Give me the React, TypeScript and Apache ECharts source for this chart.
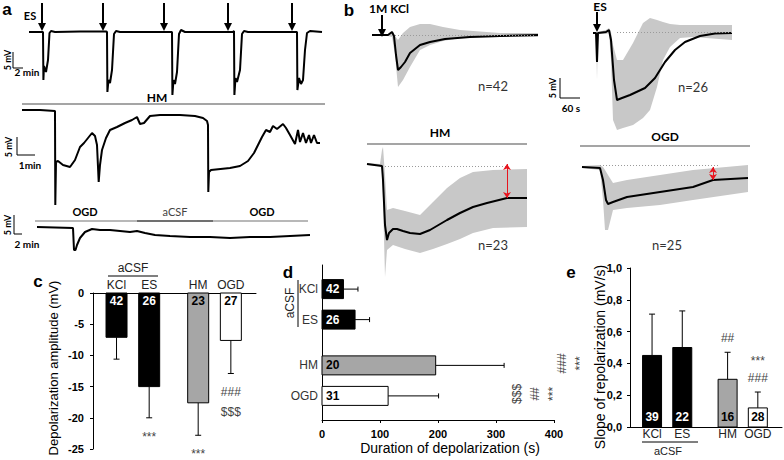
import React, { useEffect, useRef } from 'react';
import * as echarts from 'echarts';

const FONT = '"Liberation Sans", Arial, sans-serif';
const FONT2 = 'Lato, "Open Sans", sans-serif';

// ---------- panel a : raw recordings (t in min, v in mV) ----------
const traceES: number[][] = [
  [0, 0], [2.6, 0], [2.8, 0], [2.88, -19.2], [3.0, -13.6], [3.4, -16], [3.8, -11.2], [4.1, -0.4], [4.4, 0.4], [5.2, 0],
  [10.2, 0.2], [15.4, 0.2], [15.6, 0], [15.68, -24], [15.9, -19.2], [16.2, -20.4], [16.6, -15.2], [17, -0.8], [17.4, 0.4], [18.2, 0],
  [28.4, 0], [28.6, 0], [28.68, -25.2], [28.9, -19.2], [29.2, -20.8], [29.6, -16], [30, -0.8], [30.4, 0.8], [31.2, 0],
  [40.8, 0], [41, 0.4], [41.08, -25.2], [41.3, -18.4], [41.6, -20], [42.2, -15.2], [42.6, -0.8], [43, 0.4], [43.8, 0],
  [53.4, 0], [53.6, 0], [53.68, -23.2], [54, -18.4], [54.4, -20.8], [54.8, -19.2], [55.2, -7.2], [55.6, -0.4], [56.2, 0.4], [58.6, 0]
];
const esStimTimes = [2.6, 14.8, 27, 39.8, 52.6];

const traceHM: number[][] = [
  [0, 0], [0.9, 0], [1.65, -0.25], [1.665, -23.75], [1.7, -13], [1.8, -12.75], [2.05, -13.75], [2.4, -14.25], [2.65, -12.5],
  [2.9, -9.25], [3.1, -8.25], [3.3, -7], [3.5, -5.75], [3.65, -6.5], [3.75, -8.75], [3.835, -18], [3.9, -13.75], [4.0, -10],
  [4.2, -7], [4.4, -5], [4.75, -4.25], [5.15, -3.25], [5.5, -2.5], [5.75, -1.75], [5.9, -3.5], [6.1, -3.25], [6.4, -1.5],
  [6.9, -1.25], [7.9, -1.25], [8.65, -1.5], [9.05, -2], [9.25, -2.75], [9.3, -3.75], [9.315, -20.5], [9.35, -15.5],
  [9.45, -15], [10.4, -14.5], [10.9, -14], [11.3, -12.75], [11.6, -10.75], [11.8, -8.75], [12.0, -6.75], [12.2, -5],
  [12.4, -5.5], [12.55, -4], [12.75, -4.75], [13.05, -3.5], [13.2, -4.5], [13.4, -6.25], [13.65, -8.5], [13.8, -5],
  [13.9, -8], [14.05, -5.75], [14.2, -8.25], [14.35, -6.25], [14.45, -8.25], [14.6, -6.25], [14.75, -8.25], [14.9, -8.25]
];

const traceOGD: number[][] = [
  [0, 0], [3.6, -0.125], [7.2, -0.25], [7.4, -5.75], [7.7, -5.75], [8.0, -4.5], [8.6, -2.75], [9.6, -1.25], [11, -0.5],
  [12.6, -0.75], [14.6, -0.75], [16.6, -1], [18.6, -1.25], [20, -1], [21.6, -1.5], [23.6, -2], [26.6, -2.25], [30.6, -2.5],
  [34.6, -2.5], [38.6, -2.75], [42.6, -2.5], [46.6, -2.5], [50.6, -2.25], [54.6, -2]
];

// ---------- panel b : averaged traces (t in s, v in mV); bands are [t, low, high] ----------
const kclMean: number[][] = [
  [0, 0], [48, 0], [60, 0.75], [66, -0.25], [72, -5], [78, -8.75], [87, -8], [99, -6.75], [114, -4.5], [144, -2.5],
  [174, -1.75], [219, -1], [294, -0.5], [384, -0.25], [498, 0]
];
const kclBand: number[][] = [
  [0, -0.25, 0.25], [48, -0.25, 0.25], [60, -0.5, 1], [69, -5, -0.25], [78, -13, -1.25], [93, -11.25, 0.5], [114, -8, 2],
  [144, -3.75, 2.75], [174, -2.5, 2.75], [213, -1.5, 2], [264, -0.75, 1.25], [384, -0.5, 0.5], [498, -0.5, 0.5]
];
const esMean: number[][] = [
  [0, 0], [9, 0], [12, -7.25], [15, 0], [39, 0.25], [48, 0.75], [54, -1.75], [63, -11.75], [72, -16.75], [87, -16.25],
  [111, -15.5], [156, -13.75], [186, -11.25], [216, -7.25], [246, -4.25], [276, -2.25], [321, -0.75], [366, -0.125], [417, 0]
];
const esBand: number[][] = [
  [0, -0.25, 0.25], [9, -0.25, 0.25], [12, -11.75, 0.25], [15, -0.25, 0.25], [39, -0.25, 0.75], [48, 0, 1.25],
  [54, -6.75, 0.25], [60, -21.75, -3], [72, -24.25, -6.75], [90, -23.75, -6.75], [120, -23, -2.5], [150, -21.25, 2.5],
  [171, -19.25, 3.75], [192, -13.5, 3.25], [210, -6.75, 2.75], [231, -3.5, 2.25], [261, -1.25, 2], [300, -1, 2], [417, -1.75, 2]
];
const hmMean: number[][] = [
  [0, 0], [45, -0.5], [48, -4], [54, -15.25], [60, -19], [66, -17.25], [78, -16.25], [90, -16.25], [108, -16.75],
  [129, -17.25], [159, -17.5], [189, -16.5], [240, -14], [279, -12.25], [318, -10.75], [360, -9.75], [420, -8.5], [480, -8.5]
];
const hmBand: number[][] = [
  [0, -0.25, 0.25], [39, -0.5, 0], [45, -1, 3.5], [48, -9, 4.25], [54, -28.25, -2.75], [60, -21.5, -11.5], [78, -20.25, -11],
  [114, -21.25, -11.75], [159, -22.25, -12.75], [198, -21.25, -9.5], [240, -20, -6], [279, -18.75, -3.5], [318, -17.25, -2],
  [378, -16, -1.5], [480, -15.75, -1.25]
];
const ogdMean: number[][] = [
  [0, 0], [54, -0.25], [63, -3.25], [72, -8.25], [78, -9.25], [93, -8.75], [135, -7.5], [234, -6.25], [333, -5],
  [393, -3.25], [498, -2.75]
];
const ogdBand: number[][] = [
  [0, -0.25, 0.25], [54, -0.75, 0.5], [63, -8.25, 0], [69, -15.75, -0.75], [78, -15.75, -2], [93, -10.75, -4],
  [135, -10.25, -3.25], [234, -9.5, -2], [333, -8.25, -0.75], [498, -6.25, 0.5]
];
const kclStimTime = 30;
const esStimTimeB = 12;
const hmArrowTime = 420;
const ogdArrowTime = 393;

// ---------- panels c, d, e ----------
const groups = ['KCl', 'ES', 'HM', 'OGD'];
const slots = [0, 1, 2.5, 3.5];
const ampMean = [-7.1, -15.0, -17.6, -7.6];
const ampSD = [3.5, 5.0, 5.2, 5.3];
const ampN = [42, 26, 23, 27];
const ampSig = ['', '***', '***', '###\n$$$'];
const durMean = [37, 57, 196, 114];
const durSD = [25, 25, 118, 87];
const durN = [42, 26, 20, 31];
const durSig = [[], [], ['###', '***'], ['$$$', '##', '***']];
const slopeMean = [0.45, 0.5, 0.3, 0.12];
const slopeSD = [0.26, 0.23, 0.17, 0.1];
const slopeN = [39, 22, 16, 28];
const slopeSig = ['', '', '##', '***\n###'];
const barFill = ['#000000', '#000000', '#a6a6a6', '#ffffff'];
const nColor = ['#ffffff', '#ffffff', '#000000', '#000000'];

function traceLine(g: number, data: number[][], markData?: any[]) {
  const s: any = {
    type: 'line', xAxisIndex: g, yAxisIndex: g, data, showSymbol: false, symbol: 'none', silent: true, z: 3,
    lineStyle: { color: '#000', width: 2 }, clip: false
  };
  if (markData) {
    s.markLine = { silent: true, animation: false, label: { show: false }, symbol: ['none', 'none'], data: markData };
  }
  return s;
}

function bandSeries(g: number, band: number[][]) {
  return {
    type: 'custom', xAxisIndex: g, yAxisIndex: g, silent: true, z: 1, clip: false,
    data: [[band[0][0], band[0][1]]],
    renderItem: (_p: any, api: any) => {
      const pts: number[][] = [];
      band.forEach((b) => pts.push(api.coord([b[0], b[1]])));
      for (let i = band.length - 1; i >= 0; i--) pts.push(api.coord([band[i][0], band[i][2]]));
      return { type: 'polygon', shape: { points: pts }, style: { fill: '#c8c8c8' } };
    }
  };
}

function stimArrow(t: number, v1: number, v2: number) {
  return [
    { coord: [t, v1], symbol: 'none', lineStyle: { color: '#000', width: 2, type: 'solid' } },
    { coord: [t, v2], symbol: 'triangle', symbolSize: [8, 8], symbolRotate: 180 }
  ];
}
function dotted(t1: number, t2: number, v: number) {
  return [
    { coord: [t1, v], symbol: 'none', lineStyle: { color: '#9a9a9a', width: 1, type: [1, 2] } },
    { coord: [t2, v], symbol: 'none' }
  ];
}
function redArrow(t: number, v2: number) {
  return [
    { coord: [t, 0], symbol: 'arrow', symbolSize: 6, lineStyle: { color: '#e8141e', width: 1, type: 'solid' } },
    { coord: [t, v2], symbol: 'arrow', symbolSize: 6 }
  ];
}

const txt = (text: string, x: number, y: number, font: string, extra: any = {}) => ({
  type: 'text', x, y, rotation: extra.rotation || 0, silent: true,
  style: { text, font, fill: extra.fill || '#000', align: extra.align || 'center', verticalAlign: extra.va || 'middle' }
});
const seg = (x1: number, y1: number, x2: number, y2: number, stroke = '#000', w = 1) => ({
  type: 'line', silent: true, shape: { x1, y1, x2, y2 }, style: { stroke, lineWidth: w }
});

function buildOption(): any {
  const R = Math.PI / 2;
  const grids = [
    { left: 29, top: 0, width: 293, height: 100 },
    { left: 22, top: 105, width: 300, height: 105 },
    { left: 37, top: 220, width: 273, height: 35 },
    { left: 372, top: 0, width: 166, height: 95 },
    { left: 593, top: 0, width: 139, height: 135 },
    { left: 367, top: 145, width: 160, height: 135 },
    { left: 582, top: 150, width: 166, height: 85 },
    { left: 93, top: 293, width: 163, height: 156 },
    { left: 322, top: 265, width: 232, height: 155 },
    { left: 630, top: 268, width: 152, height: 159 }
  ];
  const ranges = [
    [0, 58.6, -27.2, 12.8], [0, 15, -25, 1.25], [0, 54.6, -7, 1.75],
    [0, 498, -15, 8.75], [0, 417, -25.5, 8.25], [0, 480, -29, 4.75], [0, 498, -17, 4.25]
  ];
  const xAxis: any[] = ranges.map((r, g) => ({ type: 'value', gridIndex: g, min: r[0], max: r[1], show: false }));
  const yAxis: any[] = ranges.map((r, g) => ({ type: 'value', gridIndex: g, min: r[2], max: r[3], show: false }));
  const blackLine = { show: true, onZero: false, lineStyle: { color: '#000', width: 1 } };
  const boldLab = { color: '#000', fontFamily: FONT, fontWeight: 'bold', fontSize: 11 };
  // c
  xAxis.push({ type: 'value', gridIndex: 7, min: -0.72, max: 4.27, position: 'top', axisLine: blackLine, axisTick: { show: false }, axisLabel: { show: false }, splitLine: { show: false } });
  yAxis.push({ type: 'value', gridIndex: 7, min: -25, max: 0, interval: 5, axisLine: blackLine, axisTick: { show: true, length: 3, lineStyle: { color: '#000' } }, axisLabel: { ...boldLab, margin: 9 }, splitLine: { show: false } });
  // d
  xAxis.push({ type: 'value', gridIndex: 8, min: 0, max: 400, interval: 100, axisLine: blackLine, axisTick: { show: true, length: 3, lineStyle: { color: '#000' } }, axisLabel: { ...boldLab, margin: 8 }, splitLine: { show: false } });
  yAxis.push({ type: 'value', gridIndex: 8, min: -0.79, max: 4.29, inverse: true, axisLine: blackLine, axisTick: { show: false }, axisLabel: { show: false }, splitLine: { show: false } });
  // e
  xAxis.push({ type: 'value', gridIndex: 9, min: -0.73, max: 4.3, axisLine: blackLine, axisTick: { show: false }, axisLabel: { show: false }, splitLine: { show: false } });
  yAxis.push({ type: 'value', gridIndex: 9, min: 0, max: 1, interval: 0.2, axisLine: blackLine, axisTick: { show: true, length: 3, lineStyle: { color: '#000' } }, axisLabel: { ...boldLab, margin: 8, formatter: (v: number) => v.toFixed(1).replace('.', ',') }, splitLine: { show: false } });

  const series: any[] = [
    traceLine(0, traceES, esStimTimes.map((t) => stimArrow(t, 11.6, 2))),
    traceLine(1, traceHM),
    traceLine(2, traceOGD),
    bandSeries(3, kclBand),
    traceLine(3, kclMean, [stimArrow(kclStimTime, 5, 0.5), dotted(69, 489, 0)]),
    bandSeries(4, esBand),
    traceLine(4, esMean, [stimArrow(esStimTimeB, 5.25, 1.25), dotted(72, 417, 0.25)]),
    bandSeries(5, hmBand),
    traceLine(5, hmMean, [dotted(54, 423, -0.5), redArrow(hmArrowTime, -8.5)]),
    bandSeries(6, ogdBand),
    traceLine(6, ogdMean, [dotted(54, 414, 0.5), redArrow(ogdArrowTime, -3.25)])
  ];

  // c : amplitude (vertical bars downward)
  series.push({
    type: 'custom', xAxisIndex: 7, yAxisIndex: 7, clip: false, silent: true, z: 5,
    encode: { x: 0, y: 1 },
    data: groups.map((_g, i) => [slots[i], ampMean[i], ampSD[i]]),
    renderItem: (params: any, api: any) => {
      const i = params.dataIndex;
      const s = api.value(0), m = api.value(1), sd = api.value(2);
      const p0 = api.coord([s, 0]), p1 = api.coord([s, m]), pe = api.coord([s, m - sd]);
      const w = 21;
      return {
        type: 'group', children: [
          seg(p1[0], p1[1], pe[0], pe[1]),
          seg(pe[0] - 3, pe[1], pe[0] + 3, pe[1]),
          { type: 'rect', shape: { x: p0[0] - w / 2, y: p0[1], width: w, height: p1[1] - p0[1] }, style: { fill: barFill[i], stroke: '#000', lineWidth: 1 } },
          txt(String(ampN[i]), p0[0], p0[1] + 8, 'bold 12px ' + FONT, { fill: nColor[i] }),
          txt(groups[i], p0[0], p0[1] - 8, '12px ' + FONT, { fill: '#222' }),
          { type: 'text', x: pe[0], y: pe[1] + 9, style: { text: ampSig[i], font: '12px ' + FONT, fill: '#444', align: 'center', verticalAlign: 'top', lineHeight: 20 } }
        ]
      };
    }
  });

  // d : duration (horizontal bars)
  series.push({
    type: 'custom', xAxisIndex: 8, yAxisIndex: 8, clip: false, silent: true, z: 5,
    encode: { x: 1, y: 0 },
    data: groups.map((_g, i) => [slots[i], durMean[i], durSD[i]]),
    renderItem: (params: any, api: any) => {
      const i = params.dataIndex;
      const s = api.value(0), m = api.value(1), sd = api.value(2);
      const p0 = api.coord([0, s]), p1 = api.coord([m, s]), pe = api.coord([m + sd, s]);
      const h = 19;
      const kids: any[] = [
        seg(p1[0], p1[1], pe[0], pe[1]),
        seg(pe[0], pe[1] - 2.5, pe[0], pe[1] + 2.5),
        { type: 'rect', shape: { x: p0[0], y: p0[1] - h / 2, width: p1[0] - p0[0], height: h }, style: { fill: barFill[i], stroke: '#000', lineWidth: 1 } },
        txt(String(durN[i]), p0[0] + 4, p0[1], 'bold 12px ' + FONT, { fill: nColor[i], align: 'left' }),
        txt(groups[i], p0[0] - 4, p0[1], '12px ' + FONT, { fill: '#333', align: 'right' })
      ];
      const start = i === 3 ? 78 : 58;
      durSig[i].forEach((sg: string, j: number) => {
        kids.push(txt(sg, pe[0] + start + 18 * j, p0[1] - 2, '12px ' + FONT, { fill: '#444', rotation: Math.PI / 2 }));
      });
      return { type: 'group', children: kids };
    }
  });

  // e : slope of repolarization
  series.push({
    type: 'custom', xAxisIndex: 9, yAxisIndex: 9, clip: false, silent: true, z: 5,
    encode: { x: 0, y: 1 },
    data: groups.map((_g, i) => [slots[i], slopeMean[i], slopeSD[i]]),
    renderItem: (params: any, api: any) => {
      const i = params.dataIndex;
      const s = api.value(0), m = api.value(1), sd = api.value(2);
      const p0 = api.coord([s, 0]), p1 = api.coord([s, m]), pe = api.coord([s, m + sd]);
      const w = 19;
      return {
        type: 'group', children: [
          seg(p1[0], p1[1], pe[0], pe[1]),
          seg(pe[0] - 3, pe[1], pe[0] + 3, pe[1]),
          { type: 'rect', shape: { x: p0[0] - w / 2, y: p1[1], width: w, height: p0[1] - p1[1] }, style: { fill: barFill[i], stroke: '#000', lineWidth: 1 } },
          txt(String(slopeN[i]), p0[0], p0[1] - 10, 'bold 12px ' + FONT, { fill: nColor[i] }),
          txt(groups[i], p0[0], p0[1] + 7, '12px ' + FONT, { fill: '#222' }),
          { type: 'text', x: pe[0], y: pe[1] - 6, style: { text: slopeSig[i], font: '12px ' + FONT, fill: '#444', align: 'center', verticalAlign: 'bottom', lineHeight: 17 } }
        ]
      };
    }
  });

  const B = 'bold 17px ' + FONT;
  const sb = 'bold 9px ' + FONT2;
  const graphic: any[] = [
    txt('a', 7, 9, B), txt('b', 349, 10, B), txt('c', 38, 281, B), txt('d', 288, 272, B), txt('e', 571, 272, B),
    // panel a
    txt('ES', 30, 15, 'bold 11px ' + FONT2),
    seg(13, 52, 13, 68), seg(13, 68, 23, 68), txt('5 mV', 7, 60, sb, { rotation: R }), txt('2 min', 27, 72, 'bold 10px ' + FONT2),
    seg(17, 137, 17, 155), seg(17, 155, 35, 155), txt('5 mV', 8, 147, sb, { rotation: R }), txt('1min', 30, 165, 'bold 10px ' + FONT2),
    seg(14, 215, 14, 234), seg(14, 234, 22, 234), txt('5 mV', 7, 225, sb, { rotation: R }), txt('2 min', 27, 244, 'bold 10px ' + FONT2),
    txt('HM', 157, 97, 'bold 12px ' + FONT2), seg(22, 104, 325, 104, '#a5a5a5', 2),
    txt('OGD', 85, 211, 'bold 11px ' + FONT2), txt('aCSF', 175, 211, '11px ' + FONT2, { fill: '#444' }), txt('OGD', 262, 211, 'bold 11px ' + FONT2),
    seg(35, 221, 137, 221, '#b8b8b8', 2), seg(137, 221, 213, 221, '#707070', 2), seg(213, 221, 308, 221, '#b8b8b8', 2),
    // panel b
    txt('1M KCl', 389, 8, 'bold 12px ' + FONT2), txt('ES', 600, 6, 'bold 12px ' + FONT2),
    seg(560, 78, 560, 98), seg(560, 98, 580, 98), txt('5 mV', 552, 88, sb, { rotation: R }), txt('60 s', 571, 108, 'bold 10px ' + FONT2),
    txt('n=42', 493, 86, '13px ' + FONT2, { fill: '#333' }), txt('n=26', 693, 87, '13px ' + FONT2, { fill: '#333' }),
    txt('n=23', 493, 245, '13px ' + FONT2, { fill: '#333' }), txt('n=25', 667, 245, '13px ' + FONT2, { fill: '#333' }),
    txt('HM', 440, 132, 'bold 12px ' + FONT2), seg(367, 144, 527, 144, '#a5a5a5', 2),
    txt('OGD', 665, 136, 'bold 12px ' + FONT2), seg(580, 146, 750, 146, '#a5a5a5', 2),
    // panel c
    txt('aCSF', 133, 268, '12px ' + FONT, { fill: '#222' }), seg(108, 276, 158, 276),
    txt('Depolarization amplitude (mV)', 53, 368, '13px ' + FONT, { rotation: R }),
    // panel d
    txt('aCSF', 290, 303, '12px ' + FONT, { fill: '#222', rotation: R }), seg(298, 280, 298, 327),
    txt('Duration of depolarization (s)', 450, 448, '14px ' + FONT),
    // panel e
    txt('aCSF', 668, 451, '11px ' + FONT, { fill: '#222' }), seg(642, 442, 698, 442),
    txt('Slope of repolarization (mV/s)', 600, 357, '14px ' + FONT, { rotation: R })
  ];

  return { animation: false, backgroundColor: '#fff', grid: grids, xAxis, yAxis, series, graphic };
}

export default function App() {
  const ref = useRef<HTMLDivElement>(null);
  useEffect(() => {
    document.body.style.margin = '0';
    const chart = echarts.init(ref.current as HTMLDivElement, null, { renderer: 'svg' });
    chart.setOption(buildOption());
    return () => chart.dispose();
  }, []);
  return <div ref={ref} style={{ width: 784, height: 460, background: '#fff' }} />;
}
